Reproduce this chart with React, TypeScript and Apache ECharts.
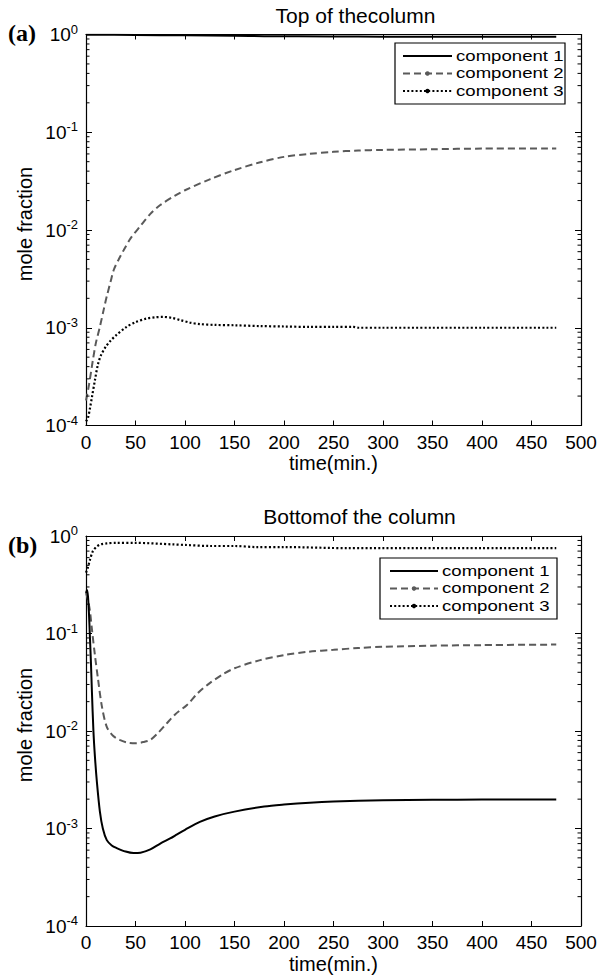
import React, { useEffect, useRef } from "react";
import * as echarts from "echarts";

// ---------- data ----------
const panelTitles = ["Top of thecolumn", "Bottomof the column"];
const panelTags = ["(a)", "(b)"];
const seriesNames = ["component 1", "component 2", "component 3"];
const xAxisTitle = "time(min.)";
const yAxisTitle = "mole fraction";

// Panel (a): top of the column
const topC1Time = [0, 50, 100, 150, 180, 250, 300, 400, 475];
const topC1Value = [0.995, 0.99, 0.98, 0.97, 0.96, 0.955, 0.95, 0.95, 0.95];

const topC2Time = [0, 3, 7, 10, 14, 18, 21, 25, 28, 33, 38, 45, 55, 65, 75, 90, 100, 125, 150, 175, 200, 225, 250, 275, 300, 350, 400, 475];
const topC2Value = [1.8e-4, 2.6e-4, 4.7e-4, 7e-4, 1.02e-3, 1.55e-3, 2.1e-3, 3e-3, 3.9e-3, 5e-3, 6.2e-3, 8.2e-3, 0.011, 0.0146, 0.018, 0.0225, 0.0255, 0.033, 0.041, 0.049, 0.056, 0.06, 0.063, 0.065, 0.066, 0.067, 0.068, 0.068];

const topC3Time = [0, 2, 4, 6, 9, 12, 15, 20, 25, 30, 41, 50, 61, 70, 78, 87, 95, 105, 115, 130, 150, 176, 200, 226, 250, 270, 275, 300, 350, 400, 475];
const topC3Value = [1.1e-4, 1.2e-4, 1.5e-4, 1.95e-4, 2.9e-4, 4.2e-4, 5.2e-4, 6.4e-4, 7.4e-4, 8.3e-4, 1.02e-3, 1.14e-3, 1.24e-3, 1.28e-3, 1.29e-3, 1.26e-3, 1.2e-3, 1.13e-3, 1.09e-3, 1.07e-3, 1.06e-3, 1.04e-3, 1.03e-3, 1.02e-3, 1.02e-3, 1.02e-3, 1.0e-3, 1.0e-3, 1.0e-3, 1.0e-3, 1.0e-3];

// Panel (b): bottom of the column
const botC1Time = [0, 1, 2, 3, 4, 5, 6, 7.5, 9, 11, 14, 17, 21, 26, 31, 40, 48, 55, 65, 75, 85, 92, 100, 115, 130, 150, 180, 200, 226, 250, 300, 350, 400, 475];
const botC1Value = [0.26, 0.28, 0.24, 0.16, 0.09, 0.05, 0.025, 0.01, 5.5e-3, 3e-3, 1.5e-3, 1.0e-3, 7.6e-4, 6.7e-4, 6.3e-4, 5.8e-4, 5.6e-4, 5.65e-4, 6.1e-4, 7.0e-4, 7.9e-4, 8.7e-4, 9.7e-4, 1.17e-3, 1.33e-3, 1.49e-3, 1.68e-3, 1.76e-3, 1.84e-3, 1.89e-3, 1.95e-3, 1.97e-3, 1.98e-3, 1.98e-3];

const botC2Time = [0, 2, 4, 6, 9, 12, 16, 21, 27, 34, 42, 51, 58, 65, 73, 81, 90, 102, 113, 125, 138, 150, 175, 200, 225, 250, 275, 300, 350, 400, 475];
const botC2Value = [0.26, 0.22, 0.17, 0.11, 0.06, 0.035, 0.018, 0.011, 9.0e-3, 8.1e-3, 7.6e-3, 7.5e-3, 7.7e-3, 8.1e-3, 9.6e-3, 0.0118, 0.0148, 0.0185, 0.0245, 0.031, 0.038, 0.044, 0.053, 0.06, 0.065, 0.068, 0.071, 0.073, 0.075, 0.076, 0.077];

const botC3Time = [0, 2, 4, 7, 11, 15, 21, 30, 50, 88, 100, 125, 150, 172, 200, 266, 300, 400, 475];
const botC3Value = [0.42, 0.48, 0.57, 0.7, 0.78, 0.82, 0.84, 0.85, 0.85, 0.82, 0.81, 0.79, 0.79, 0.77, 0.77, 0.75, 0.75, 0.75, 0.75];

// axis ranges / ticks
const xMin = 0;
const xMax = 500;
const xStep = 50;
const yMin = 1e-4;
const yMax = 1;
const minorTickValues = [1e-4, 1e-3, 1e-2, 1e-1].flatMap((d) => [2, 3, 4, 5, 6, 7, 8, 9].map((m) => m * d));

// ---------- styles ----------
const FONT = "Liberation Sans, Arial, Helvetica, sans-serif";
const SERIF = "Liberation Serif, Times New Roman, serif";
const GRAY = "#5a5a5a";
const lineStyles = [
  { color: "#000", width: 2, type: "solid" as any },
  { color: GRAY, width: 2, type: [7, 4] as any },
  { color: "#000", width: 2.2, type: [2, 2.2] as any },
];

const grids = [
  { left: 86, top: 34.5, width: 495, height: 391 },
  { left: 86, top: 536, width: 495, height: 390 },
];

const zip = (t: number[], v: number[]) => t.map((x, i) => [x, v[i]]);

export default function App() {
  const ref = useRef<HTMLDivElement>(null);

  useEffect(() => {
    if (!ref.current) return;
    const chart = echarts.init(ref.current, undefined, { renderer: "svg" });

    const axisLine = { show: true, onZero: false, lineStyle: { color: "#000", width: 1.2 } };
    const xAxes: any[] = [];
    const yAxes: any[] = [];
    grids.forEach((_, gi) => {
      xAxes.push({
        gridIndex: gi,
        type: "value",
        min: xMin,
        max: xMax,
        interval: xStep,
        position: "bottom",
        axisLine,
        axisTick: { show: true, inside: true, length: 5, lineStyle: { color: "#000" } },
        axisLabel: { show: true, margin: 7, color: "#000", fontSize: 19, fontFamily: FONT },
        splitLine: { show: false },
      });
      xAxes.push({
        gridIndex: gi,
        type: "value",
        min: xMin,
        max: xMax,
        interval: xStep,
        position: "top",
        axisLine,
        axisTick: { show: true, inside: true, length: 5, lineStyle: { color: "#000" } },
        axisLabel: { show: false },
        splitLine: { show: false },
      });
      yAxes.push({
        gridIndex: gi,
        type: "log",
        logBase: 10,
        min: yMin,
        max: yMax,
        splitNumber: 4,
        position: "left",
        axisLine,
        axisTick: { show: true, inside: true, length: 6, lineStyle: { color: "#000" } },
        axisLabel: {
          show: true,
          margin: 8,
          formatter: (v: number) => `{b|10}{s|${Math.round(Math.log10(v))}}`,
          rich: {
            b: { fontSize: 19, fontFamily: FONT, color: "#000", lineHeight: 24 },
            s: { fontSize: 13, fontFamily: FONT, color: "#000", lineHeight: 13, verticalAlign: "top" },
          },
        },
        splitLine: { show: false },
      });
      yAxes.push({
        gridIndex: gi,
        type: "log",
        logBase: 10,
        min: yMin,
        max: yMax,
        splitNumber: 4,
        position: "right",
        axisLine,
        axisTick: { show: true, inside: true, length: 6, lineStyle: { color: "#000" } },
        axisLabel: { show: false },
        splitLine: { show: false },
      });
    });

    const panelData = [
      [zip(topC1Time, topC1Value), zip(topC2Time, topC2Value), zip(topC3Time, topC3Value)],
      [zip(botC1Time, botC1Value), zip(botC2Time, botC2Value), zip(botC3Time, botC3Value)],
    ];

    const series: any[] = [];
    panelData.forEach((sets, gi) => {
      sets.forEach((data, si) => {
        series.push({
          type: "line",
          name: seriesNames[si],
          xAxisIndex: gi * 2,
          yAxisIndex: gi * 2,
          data,
          showSymbol: false,
          symbol: "none",
          smooth: 0.3,
          lineStyle: lineStyles[si],
          z: 3 - si + 2,
        });
      });
      series.push({
        type: "custom",
        xAxisIndex: gi * 2,
        yAxisIndex: gi * 2,
        silent: true,
        clip: false,
        z: 10,
        data: minorTickValues.map((v) => [xMin, v]),
        renderItem: (_p: any, api: any) => {
          const v = api.value(1);
          const l = api.coord([xMin, v]);
          const r = api.coord([xMax, v]);
          return {
            type: "group",
            children: [
              { type: "line", shape: { x1: l[0], y1: l[1], x2: l[0] + 3.5, y2: l[1] }, style: { stroke: "#000", lineWidth: 1 } },
              { type: "line", shape: { x1: r[0] - 3.5, y1: r[1], x2: r[0], y2: r[1] }, style: { stroke: "#000", lineWidth: 1 } },
            ],
          };
        },
      });
    });

    const txt = (text: string, x: number, y: number, opts: any = {}) => ({
      type: "text",
      x,
      y,
      rotation: opts.rotation || 0,
      scaleX: opts.scaleX || 1,
      z: 100,
      style: {
        text,
        fill: "#000",
        fontSize: opts.size || 20,
        fontFamily: opts.family || FONT,
        fontWeight: opts.weight || "normal",
        align: opts.align || "center",
        verticalAlign: "middle",
        textAlign: opts.align || "center",
        textVerticalAlign: "middle",
      },
    });

    const legendBoxes = [
      { x: 395, y: 43, w: 170, h: 61, rows: [56, 73.5, 91], l1: 403, l2: 452, tx: 456 },
      { x: 380, y: 558, w: 177, h: 61, rows: [571, 588.5, 606], l1: 390, l2: 438, tx: 442 },
    ];

    const graphic: any[] = [];
    graphic.push(txt(panelTitles[0], 355.5, 15, { size: 21 }));
    graphic.push(txt(panelTitles[1], 359.5, 516.5, { size: 21 }));
    graphic.push(txt(panelTags[0], 8, 33, { size: 24, family: SERIF, weight: "bold", align: "left" }));
    graphic.push(txt(panelTags[1], 8, 545, { size: 24, family: SERIF, weight: "bold", align: "left" }));
    graphic.push(txt(xAxisTitle, 333.5, 463, { size: 20 }));
    graphic.push(txt(xAxisTitle, 333.5, 964, { size: 20 }));
    graphic.push(txt(yAxisTitle, 25, 224, { size: 20, rotation: Math.PI / 2 }));
    graphic.push(txt(yAxisTitle, 25, 725, { size: 20, rotation: Math.PI / 2 }));

    legendBoxes.forEach((lb) => {
      graphic.push({
        type: "rect",
        z: 90,
        shape: { x: lb.x, y: lb.y, width: lb.w, height: lb.h },
        style: { fill: "#fff", stroke: "#000", lineWidth: 1.2 },
      });
      lb.rows.forEach((ry, si) => {
        const ls = lineStyles[si];
        graphic.push({
          type: "line",
          z: 95,
          shape: { x1: lb.l1, y1: ry, x2: lb.l2, y2: ry },
          style: {
            stroke: ls.color,
            lineWidth: ls.width,
            lineDash: Array.isArray(ls.type) ? ls.type : null,
          },
        });
        if (si > 0) {
          graphic.push({
            type: "circle",
            z: 96,
            shape: { cx: (lb.l1 + lb.l2) / 2, cy: ry, r: 2.2 },
            style: { fill: ls.color },
          });
        }
        graphic.push(txt(seriesNames[si], lb.tx, ry, { size: 15.5, align: "left", scaleX: 1.2 }));
      });
    });

    chart.setOption({
      animation: false,
      backgroundColor: "#fff",
      grid: grids.map((g) => ({ ...g, containLabel: false, show: false })),
      xAxis: xAxes,
      yAxis: yAxes,
      series,
      graphic,
    });

    return () => chart.dispose();
  }, []);

  return (
    <div
      ref={ref}
      style={{ position: "fixed", left: 0, top: 0, width: 603, height: 980, background: "#fff" }}
    />
  );
}
